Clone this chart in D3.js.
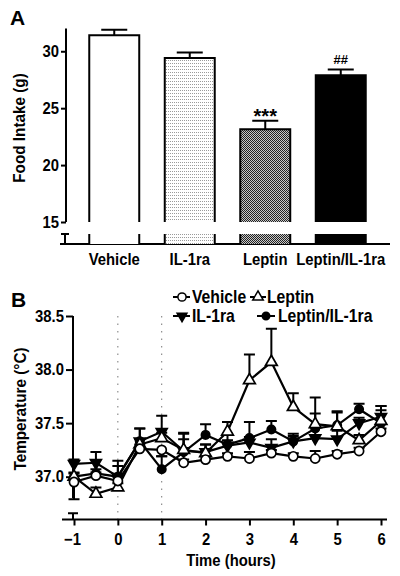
<!DOCTYPE html>
<html><head><meta charset="utf-8">
<script src="https://cdn.jsdelivr.net/npm/d3@7/dist/d3.min.js"></script>
<style>
body{margin:0;background:#fff;}
svg{display:block;font-family:"Liberation Sans",Arial,sans-serif;font-weight:bold;}
</style></head>
<body><svg id="c" width="400" height="576"></svg>
<script>
// ---- Panel A data ----
const foodCategories = ["Vehicle", "IL-1ra", "Leptin", "Leptin/IL-1ra"];
const foodMeans = [31.4, 29.4, 23.15, 27.9];
const foodSEM = [0.5, 0.5, 0.75, 0.5];
const foodMarks = ["", "", "***", "##"];
const foodTicks = [15, 20, 25, 30];

// ---- Panel B data ----
const hours = [-1, -0.5, 0, 0.5, 1, 1.5, 2, 2.5, 3, 3.5, 4, 4.5, 5, 5.5, 6];
const hourTicks = [-1, 0, 1, 2, 3, 4, 5, 6];
const tempTicks = [37.0, 37.5, 38.0, 38.5];
const tempVehicle = [36.95, 37.01, 36.96, 37.26, 37.25, 37.13, 37.16, 37.19, 37.17, 37.22, 37.19, 37.17, 37.21, 37.24, 37.42];
const tempVehicleErr = [-0.16, 0.03, 0.04, 0.04, -0.06, 0.03, 0.03, 0.03, 0.06, 0.03, 0.03, 0.07, 0.03, 0.03, 0.03];
const tempLeptin = [37.0, 36.84, 36.9, 37.3, 37.36, 37.25, 37.22, 37.42, 37.9, 38.07, 37.65, 37.49, 37.47, 37.34, 37.52];
const tempLeptinErr = [0.03, 0.06, 0.04, 0.05, 0.05, 0.1, 0.08, 0.09, 0.24, 0.31, 0.13, 0.25, 0.13, 0.05, 0.1];
const tempIL = [37.12, 37.13, 37.0, 37.33, 37.42, 37.24, 37.23, 37.29, 37.32, 37.27, 37.33, 37.36, 37.35, 37.5, 37.56];
const tempILErr = [0.04, 0.1, 0.15, 0.12, 0.15, 0.17, 0.07, 0.05, 0.05, 0.08, 0.05, 0.1, 0.08, 0.05, 0.1];
const tempLI = [37.0, 37.03, 37.0, 37.33, 37.07, 37.23, 37.39, 37.3, 37.36, 37.44, 37.33, 37.45, 37.48, 37.63, 37.5];
const tempLIErr = [0.04, 0.04, 0.1, 0.12, 0.12, 0.17, 0.1, 0.1, 0.15, 0.08, 0.07, 0.14, 0.13, 0.05, 0.16];

const SX = 0.9; // horizontal squeeze to mimic the narrow, tall typeface
const svg = d3.select("#c");
function txt(g, x, y, str, size, anchor, rot) {
  return g.append("text")
    .attr("transform", `translate(${x},${y})${rot ? ` rotate(${rot})` : ""} scale(${SX},1)`)
    .attr("text-anchor", anchor || "start").attr("font-size", size).text(str);
}
function styleTicks(sel) {
  sel.selectAll(".tick text").attr("font-size", 16.5).attr("font-weight", "bold")
    .attr("font-family", "Liberation Sans, Arial, sans-serif");
}

const defs = svg.append("defs");
const p1 = defs.append("pattern").attr("id","dots").attr("patternUnits","userSpaceOnUse").attr("width",2).attr("height",3);
p1.append("rect").attr("width",2).attr("height",3).attr("fill","#fff");
p1.append("rect").attr("width",1).attr("height",1).attr("fill","#9a9a9a");
const p2 = defs.append("pattern").attr("id","check").attr("patternUnits","userSpaceOnUse").attr("width",2).attr("height",2);
p2.append("rect").attr("width",2).attr("height",2).attr("fill","#c8c8c8");
p2.append("rect").attr("width",1).attr("height",1).attr("fill","#222");
p2.append("rect").attr("x",1).attr("y",1).attr("width",1).attr("height",1).attr("fill","#222");
const fills = ["#fff", "url(#dots)", "url(#check)", "#000"];

// ================= Panel A =================
const xA = d3.scaleBand().domain(foodCategories).range([76.5, 378.5]).paddingInner(0.338).paddingOuter(0.169);
const yA = d3.scaleLinear().domain([15, 32]).range([222, 28.5]);
const axisXA = 66, baseA = 244, breakTopA = 234;

svg.append("text").attr("x", 10).attr("y", 25).attr("font-size", 21).text("A");

const gA = svg.append("g");
const yAxisA = d3.axisLeft(yA).tickValues(foodTicks).tickSize(5).tickSizeOuter(0).tickFormat(d3.format("d"));
const ga = gA.append("g").attr("transform", `translate(${axisXA},0)`).call(yAxisA);
ga.select(".domain").attr("stroke-width", 2).attr("d", `M0,${yA(32)}V${yA(15)}`);
ga.selectAll(".tick line").attr("stroke-width", 2);
styleTicks(ga);
ga.selectAll(".tick text").attr("x", null).attr("transform", `translate(-7,0) scale(${SX},1)`);
gA.append("path").attr("d", `M${axisXA-1},${breakTopA}V${baseA}M${axisXA-5},${breakTopA}H${axisXA+3}`).attr("stroke", "#000").attr("stroke-width", 2).attr("fill", "none");
gA.append("line").attr("x1", 60).attr("x2", 390).attr("y1", baseA).attr("y2", baseA).attr("stroke", "#000").attr("stroke-width", 2);

foodCategories.forEach((c, i) => {
  const x0 = xA(c), w = xA.bandwidth(), yt = yA(foodMeans[i]);
  gA.append("rect").attr("x", x0).attr("y", yt).attr("width", w).attr("height", yA(15) - yt).attr("fill", fills[i]);
  gA.append("path").attr("d", `M${x0},${yA(15)}V${yt}H${x0+w}V${yA(15)}`).attr("fill", "none").attr("stroke", "#000").attr("stroke-width", 2);
  gA.append("rect").attr("x", x0).attr("y", breakTopA).attr("width", w).attr("height", baseA - breakTopA).attr("fill", fills[i]);
  gA.append("path").attr("d", `M${x0},${breakTopA}V${baseA}M${x0+w},${breakTopA}V${baseA}`).attr("stroke", "#000").attr("stroke-width", 2);
  const cx = x0 + w / 2, ye = yA(foodMeans[i] + foodSEM[i]);
  gA.append("path").attr("d", `M${cx},${yt}V${ye}M${cx-13},${ye}H${cx+13}`).attr("stroke", "#000").attr("stroke-width", 2).attr("fill", "none");
  if (foodMarks[i] === "***") {
    gA.append("text").attr("x", cx).attr("y", ye + 2.5).attr("text-anchor", "middle").attr("font-size", 20).text(foodMarks[i]);
  } else if (foodMarks[i]) {
    gA.append("text").attr("x", cx).attr("y", ye - 5).attr("text-anchor", "middle").attr("font-size", 13).text(foodMarks[i]);
  }
  txt(gA, cx, 265, c, 16.5, "middle");
});
txt(gA, 25, 128, "Food Intake (g)", 17, "middle", -90);

// ================= Panel B =================
const xB = d3.scaleLinear().domain([-1, 6]).range([74, 381]);
const yB = d3.scaleLinear().domain([37.0, 38.5]).range([476.7, 316]);
const axisXB = 73, baseB = 519.5;

svg.append("text").attr("x", 11).attr("y", 307).attr("font-size", 21).text("B");

const gB = svg.append("g");
[0, 1].forEach(h => {
  gB.append("line").attr("x1", xB(h)).attr("x2", xB(h)).attr("y1", 316).attr("y2", baseB)
    .attr("stroke", "#777").attr("stroke-width", 1).attr("stroke-dasharray", "1.5,6");
});
const yAxisB = d3.axisLeft(yB).tickValues(tempTicks).tickSize(7).tickSizeOuter(0).tickFormat(d3.format(".1f"));
const gyb = gB.append("g").attr("transform", `translate(${axisXB},0)`).call(yAxisB);
gyb.select(".domain").attr("stroke-width", 2).attr("d", `M0,${yB(38.5)}V${yB(36.8)}`);
gyb.selectAll(".tick line").attr("stroke-width", 2);
styleTicks(gyb);
gyb.selectAll(".tick text").attr("x", null).attr("transform", `translate(-9,0) scale(${SX},1)`);
gB.append("path").attr("d", `M${axisXB},${yB(36.66)}V${baseB}M${axisXB-5},${yB(36.66)}H${axisXB+5}`).attr("stroke", "#000").attr("stroke-width", 2).attr("fill", "none");
const xAxisB = d3.axisBottom(xB).tickValues(hourTicks).tickSize(6).tickSizeOuter(0).tickFormat(d3.format("d"));
const gxb = gB.append("g").attr("transform", `translate(0,${baseB})`).call(xAxisB);
gxb.select(".domain").attr("stroke-width", 2).attr("d", `M62,0H387`);
gxb.selectAll(".tick line").attr("stroke-width", 2);
styleTicks(gxb);
gxb.selectAll(".tick text").attr("y", null).attr("dy", null)
  .attr("transform", d => `translate(${d === -1 ? -2 : 0},25) scale(${SX},1)`);
txt(gB, 231, 566, "Time (hours)", 16.5, "middle");
txt(gB, 26, 409, "Temperature (°C)", 17, "middle", -90);

const series = [
  {name: "Leptin/IL-1ra", vals: tempLI, err: tempLIErr, sym: d3.symbolCircle, size: 55, fill: "#000", rot: 0},
  {name: "IL-1ra", vals: tempIL, err: tempILErr, sym: d3.symbolTriangle, size: 52, fill: "#000", rot: 180},
  {name: "Leptin", vals: tempLeptin, err: tempLeptinErr, sym: d3.symbolTriangle, size: 60, fill: "#fff", rot: 0},
  {name: "Vehicle", vals: tempVehicle, err: tempVehicleErr, sym: d3.symbolCircle, size: 66, fill: "#fff", rot: 0}
];
const line = d3.line().x((d, i) => xB(hours[i])).y(d => yB(d));
series.forEach(s => {
  gB.append("path").datum(s.vals).attr("d", line).attr("fill", "none").attr("stroke", "#000").attr("stroke-width", 2.2);
  s.vals.forEach((v, i) => {
    const cx = xB(hours[i]), y0 = yB(v), ye = yB(v + s.err[i]);
    gB.append("path").attr("d", `M${cx},${y0}V${ye}M${cx-5.5},${ye}H${cx+5.5}`).attr("stroke", "#000").attr("stroke-width", 2).attr("fill", "none");
  });
  gB.selectAll(null).data(s.vals).enter().append("path")
    .attr("d", d3.symbol().type(s.sym).size(s.size))
    .attr("transform", (d, i) => `translate(${xB(hours[i])},${yB(d)}) rotate(${s.rot})`)
    .attr("fill", s.fill).attr("stroke", "#000").attr("stroke-width", 1.7);
});

const legend = [
  {name: "Vehicle", s: series[3], x0: 173, x1: 190, mx: 182, tx: 192, y: 297},
  {name: "Leptin", s: series[2], x0: 250, x1: 266, mx: 258, tx: 267, y: 297},
  {name: "IL-1ra", s: series[1], x0: 173, x1: 190, mx: 182, tx: 192, y: 316},
  {name: "Leptin/IL-1ra", s: series[0], x0: 257, x1: 275, mx: 266, tx: 278, y: 316}
];
legend.forEach(l => {
  gB.append("line").attr("x1", l.x0).attr("x2", l.x1).attr("y1", l.y).attr("y2", l.y).attr("stroke", "#000").attr("stroke-width", 2);
  gB.append("path").attr("d", d3.symbol().type(l.s.sym).size(l.s.size * 0.8))
    .attr("transform", `translate(${l.mx},${l.y}) rotate(${l.s.rot})`)
    .attr("fill", l.s.fill).attr("stroke", "#000").attr("stroke-width", 1.5);
  txt(gB, l.tx, l.y + 6, l.name, 17.5, "start");
});
</script></body></html>
